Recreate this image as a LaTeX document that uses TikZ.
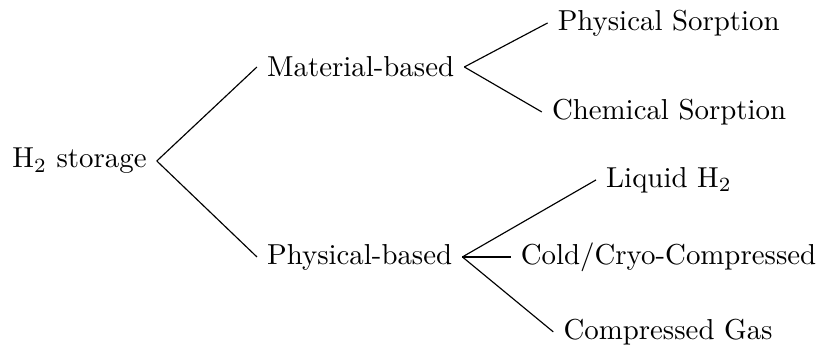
\documentclass[tikz,border=0pt]{standalone}
\usetikzlibrary{positioning}

\tikzset{leaf/.style={anchor=west}}

\begin{document}
\begin{tikzpicture}
\useasboundingbox (0,0) rectangle (9.94,4.226);

% first level
\node[anchor=east] (root) at (1.91,2.265) {H$_2$ storage};
\node[leaf] (mat) at (3.13,3.41) {Material-based};
\node[leaf] (phys) at (3.13,1.096) {Physical-based};

% leaves
\node[leaf] (physsorp) at (6.67,3.946) {Physical Sorption};
\node[leaf] (chemsorp) at (6.60,2.862) {Chemical Sorption};
\node[leaf] (liq) at (7.26,2.034) {Liquid H$_2$};
\node[leaf] (cryo) at (6.22,1.096) {Cold/Cryo-Compressed};
\node[leaf] (gas) at (6.74,0.183) {Compressed Gas};

\foreach \c in {mat,phys}
	\draw (root.east) -- (\c.west);
\foreach \c in {physsorp,chemsorp}
	\draw (mat.east) -- (\c.west);
\foreach \c in {liq,cryo,gas}
	\draw (phys.east) -- (\c.west);

\end{tikzpicture}
\end{document}
